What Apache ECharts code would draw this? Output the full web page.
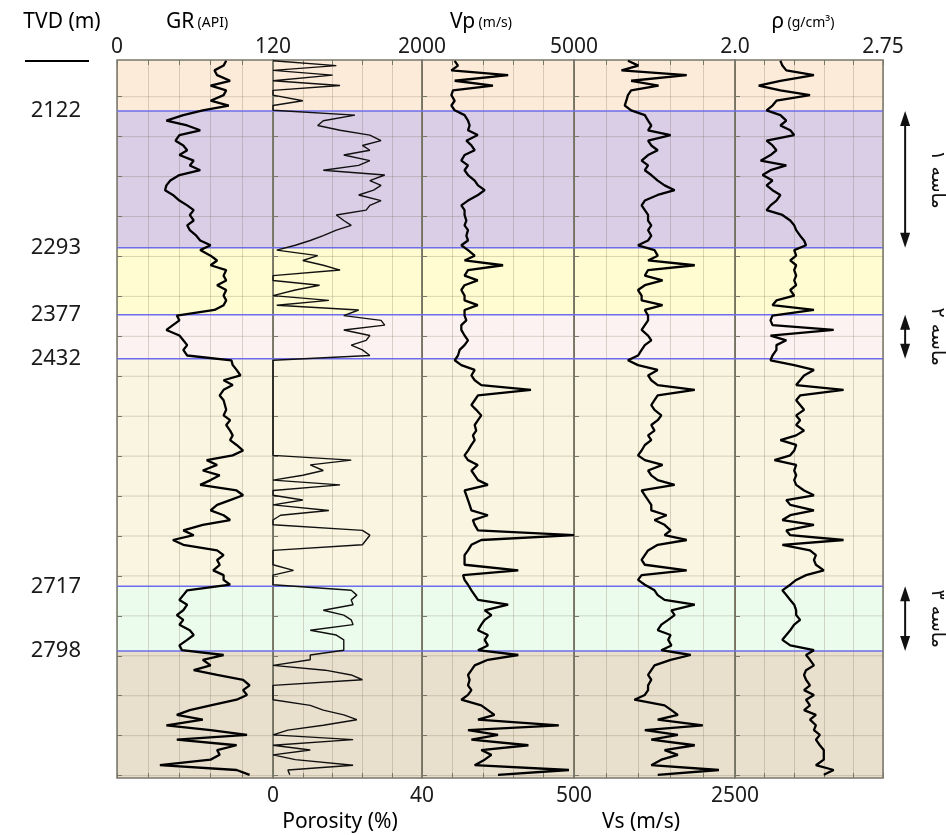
<!DOCTYPE html>
<html>
<head>
<meta charset="utf-8">
<title>Well log</title>
<script src="https://cdn.jsdelivr.net/npm/echarts@6/dist/echarts.min.js"></script>
<style>
  html, body { margin: 0; padding: 0; background: #fff; }
  #chart { width: 946px; height: 835px; }
</style>
</head>
<body>
<div id="chart"></div>
<script>
// depth samples (m, TVD)
var depth = [
  2059, 2065, 2071, 2077, 2084, 2090, 2096, 2102, 2109, 2115, 2121, 2127,
  2134, 2140, 2146, 2152, 2159, 2165, 2171, 2177, 2184, 2190, 2196, 2202,
  2209, 2215, 2221, 2227, 2234, 2240, 2246, 2252, 2259, 2265, 2271, 2278,
  2284, 2290, 2296, 2303, 2309, 2315, 2321, 2328, 2334, 2340, 2346, 2353,
  2359, 2365, 2371, 2378, 2384, 2390, 2396, 2403, 2409, 2415, 2421, 2428,
  2434, 2440, 2446, 2453, 2459, 2465, 2471, 2478, 2484, 2490, 2496, 2503,
  2509, 2515, 2522, 2528, 2534, 2540, 2547, 2553, 2559, 2565, 2572, 2578,
  2584, 2590, 2597, 2603, 2609, 2615, 2622, 2628, 2634, 2640, 2647, 2653,
  2659, 2665, 2672, 2678, 2684, 2690, 2697, 2703, 2709, 2715, 2722, 2728,
  2734, 2740, 2747, 2753, 2759, 2765, 2772, 2778, 2784, 2791, 2797, 2803,
  2809, 2816, 2822, 2828, 2834, 2841, 2847, 2853, 2859, 2866, 2872, 2878,
  2884, 2891, 2897, 2903, 2909, 2916, 2922, 2928, 2934, 2941, 2947, 2953
];
// GR (API)
var gr = [
  84, 82, 75, 77, 87, 72, 84, 82, 72, 86, 66, 51,
  38, 54, 64, 48, 45, 51, 54, 48, 59, 56, 64, 48,
  41, 38, 37, 43, 48, 54, 59, 56, 59, 54, 56, 61,
  64, 72, 64, 72, 77, 72, 84, 82, 84, 77, 84, 82,
  84, 82, 75, 46, 48, 43, 38, 48, 51, 54, 51, 54,
  88, 89, 92, 95, 82, 89, 82, 79, 82, 83, 84, 82,
  87, 84, 87, 89, 87, 92, 97, 89, 69, 77, 66, 79,
  72, 64, 92, 97, 87, 77, 72, 82, 87, 66, 51, 59,
  43, 51, 77, 82, 77, 79, 74, 82, 82, 87, 54, 51,
  48, 54, 51, 46, 51, 48, 56, 59, 54, 48, 50, 82,
  66, 72, 59, 77, 97, 102, 97, 100, 92, 72, 56, 46,
  66, 38, 72, 100, 46, 92, 77, 79, 72, 33, 92, 102
];
// Porosity (%)
var porosity = [
  0, 17, 0, 16, 0, 18, 0, 0, 8, 0, 0, 22,
  13.5, 12, 18, 26, 29, 24, 26, 19, 26, 23, 13.5, 30,
  26, 29, 27, 23, 29, 26, 25, 17, 19, 21, 17, 13.5,
  10, 6, 1, 12, 8, 13.5, 18, 0, 0, 12.5, 6, 0,
  15, 1, 23, 19, 29, 30, 19, 26, 25, 21, 24, 26,
  0, 0, 0, 0, 0, 0, 0, 0, 0, 0, 0, 0,
  0, 0, 0, 0, 0, 0, 0, 0, 21, 10, 13.5, 8,
  0, 18, 0, 0, 8, 0, 15, 2, 0, 0, 24, 26,
  25, 24, 0, 0, 0, 0, 5.5, 0, 0, 0, 21, 22.5,
  21, 21.5, 13.5, 19, 21, 21.5, 10, 17, 19, 19, 19, 10,
  10, 0, 14, 21, 24, 0, 0, 0, 0, 10, 13.5, 19,
  22.5, 13.5, 4, 0, 21.5, 0, 10, 0, 6, 21.5, 4, 4.5
];
// Vp (m/s)
var vp = [
  2645, 2710, 2580, 3700, 2645, 3400, 2612, 2580, 2645, 2580, 2645, 2840,
  2908, 2940, 2908, 3100, 2875, 2975, 3040, 2840, 2776, 2908, 2840, 2908,
  3040, 3105, 3237, 3105, 2908, 2776, 2840, 2840, 2875, 2840, 2908, 2875,
  2908, 2776, 2908, 3040, 2840, 3600, 2908, 2840, 3100, 2840, 2776, 2840,
  2840, 3100, 2840, 2840, 2875, 2776, 2776, 2840, 2908, 2840, 2743, 2710,
  2645, 2776, 3040, 2975, 3040, 3170, 4150, 3105, 3040, 2975, 3070, 3170,
  3105, 3040, 3070, 3005, 3040, 2975, 2908, 2840, 2908, 3100, 2975, 3040,
  3105, 3300, 2840, 2875, 2908, 2940, 2975, 3300, 3005, 3040, 3105, 5000,
  3170, 2975, 2908, 2840, 2840, 2840, 3900, 2810, 2840, 2908, 2975, 3040,
  3105, 3700, 3237, 3370, 3237, 3170, 3105, 3300, 3237, 3300, 3105, 3900,
  3300, 3040, 2975, 2908, 2940, 2908, 2975, 2908, 2776, 3170, 3300, 3430,
  3105, 4700, 2908, 3500, 2975, 4100, 3170, 3370, 3237, 3040, 4900, 3500
];
// Vs (m/s)
var vs = [
  1170, 1300, 1090, 1900, 1210, 1550, 1210, 1170, 1150, 1130, 1210, 1380,
  1420, 1460, 1420, 1700, 1420, 1460, 1540, 1420, 1340, 1420, 1380, 1460,
  1540, 1625, 1750, 1540, 1380, 1340, 1380, 1420, 1420, 1460, 1420, 1460,
  1420, 1295, 1500, 1540, 1420, 2000, 1420, 1380, 1600, 1380, 1295, 1340,
  1340, 1600, 1380, 1420, 1420, 1380, 1340, 1420, 1460, 1380, 1340, 1295,
  1170, 1295, 1540, 1420, 1460, 1540, 2000, 1540, 1500, 1460, 1500, 1585,
  1540, 1460, 1500, 1420, 1460, 1380, 1340, 1295, 1380, 1600, 1420, 1460,
  1540, 1750, 1340, 1380, 1420, 1460, 1460, 1650, 1500, 1625, 1700, 1625,
  1900, 1540, 1420, 1380, 1340, 1380, 1900, 1340, 1295, 1380, 1500, 1540,
  1625, 2000, 1710, 1750, 1670, 1585, 1540, 1700, 1670, 1710, 1585, 1950,
  1700, 1500, 1460, 1420, 1460, 1420, 1420, 1380, 1250, 1625, 1710, 1790,
  1540, 2100, 1380, 1790, 1460, 2000, 1625, 1790, 1585, 1460, 2300, 1540
];
// Density (g/cm3)
var rho = [
  2.23, 2.24, 2.26, 2.40, 2.23, 2.12, 2.23, 2.38, 2.21, 2.19, 2.16, 2.23,
  2.26, 2.23, 2.28, 2.30, 2.16, 2.19, 2.21, 2.18, 2.13, 2.26, 2.18, 2.14,
  2.19, 2.16, 2.19, 2.23, 2.21, 2.18, 2.16, 2.24, 2.28, 2.30, 2.31, 2.33,
  2.35, 2.36, 2.30, 2.31, 2.28, 2.31, 2.30, 2.31, 2.30, 2.31, 2.28, 2.30,
  2.21, 2.19, 2.40, 2.19, 2.18, 2.19, 2.50, 2.18, 2.26, 2.21, 2.21, 2.19,
  2.18, 2.30, 2.40, 2.35, 2.33, 2.31, 2.55, 2.33, 2.31, 2.33, 2.35, 2.31,
  2.33, 2.31, 2.35, 2.31, 2.23, 2.31, 2.30, 2.28, 2.20, 2.31, 2.30, 2.31,
  2.30, 2.31, 2.35, 2.40, 2.26, 2.28, 2.40, 2.28, 2.24, 2.40, 2.26, 2.28,
  2.55, 2.24, 2.38, 2.41, 2.40, 2.41, 2.45, 2.36, 2.31, 2.28, 2.24, 2.26,
  2.28, 2.30, 2.31, 2.31, 2.33, 2.30, 2.28, 2.26, 2.24, 2.28, 2.40, 2.36,
  2.38, 2.40, 2.36, 2.35, 2.36, 2.38, 2.35, 2.40, 2.36, 2.38, 2.35, 2.41,
  2.38, 2.41, 2.40, 2.43, 2.41, 2.43, 2.45, 2.45, 2.45, 2.41, 2.50, 2.45
];

// zone boundaries (also the depth labels) and grid depths
var zoneBounds = [2122, 2293, 2377, 2432, 2717, 2798];
var gridDepths = [2104, 2154, 2204, 2254, 2304, 2354, 2404, 2454, 2504,
                  2554, 2604, 2654, 2704, 2754, 2804, 2854, 2904, 2954];
// sand units
var sandTop = [2122, 2377, 2717];
var sandBottom = [2293, 2432, 2798];
var sandNames = ['ماسه ۱', 'ماسه ۲', 'ماسه ۳'];
// scale end labels
var grTicks = ['0', '120'];
var porTicks = ['0', '40'];
var vpTicks = ['2000', '5000'];
var vsTicks = ['500', '2500'];
var rhoTicks = ['2.0', '2.75'];

var DMIN = 2058, DMAX = 2957;
var zoneColors = ['#fdebd9', '#dacde6', '#fefcd0', '#fdf2f2', '#f9f5e1', '#ecfcec', '#e9dfcd'];
var FONT = '"Noto Sans", "Open Sans", sans-serif';
var gridColor = 'rgba(110,100,70,0.25)';
var frameColor = '#77776a';

var tracks = [
  { left: 117, width: 156, min: 0, max: 120, data: gr, labels: grTicks, labelPos: 'top', lw: 2.3, color: '#000' },
  { left: 273, width: 149, min: 0, max: 40, data: porosity, labels: porTicks, labelPos: 'bottom', lw: 1.4, color: '#111' },
  { left: 422, width: 152, min: 2000, max: 5000, data: vp, labels: vpTicks, labelPos: 'top', lw: 2.3, color: '#000' },
  { left: 574, width: 161, min: 500, max: 2500, data: vs, labels: vsTicks, labelPos: 'bottom', lw: 2.3, color: '#000' },
  { left: 735, width: 148, min: 2.0, max: 2.75, data: rho, labels: rhoTicks, labelPos: 'top', lw: 2.3, color: '#000' }
];

var TOP = 60, HEIGHT = 718;
var grids = [
  { left: 117, top: TOP, width: 766, height: HEIGHT, show: false, outerBoundsMode: 'none' }
];
var xAxes = [{ gridIndex: 0, type: 'value', min: 0, max: 1, show: false }];
var yAxes = [{
  gridIndex: 0, type: 'value', min: DMIN, max: DMAX, inverse: true, position: 'left',
  axisLine: { show: false }, axisTick: { show: false }, splitLine: { show: false },
  axisLabel: {
    customValues: zoneBounds, fontSize: 22, margin: 36, color: '#1a1a1a', fontFamily: FONT,
    formatter: function (v) { return String(v); }
  }
}];
var series = [];

// zone bands
var zoneEdges = [DMIN].concat(zoneBounds).concat([DMAX]);
var zoneData = [];
for (var z = 0; z < zoneEdges.length - 1; z++) zoneData.push([zoneEdges[z], zoneEdges[z + 1]]);
series.push({
  type: 'custom', xAxisIndex: 0, yAxisIndex: 0, z: -3, silent: true,
  data: zoneData,
  renderItem: function (params, api) {
    var p0 = api.coord([0, api.value(0)]);
    var p1 = api.coord([1, api.value(1)]);
    return { type: 'rect', shape: { x: p0[0], y: p0[1], width: p1[0] - p0[0], height: p1[1] - p0[1] },
             style: { fill: zoneColors[params.dataIndex] } };
  }
});
// horizontal grid lines
series.push({
  type: 'custom', xAxisIndex: 0, yAxisIndex: 0, z: -2, silent: true,
  data: gridDepths.map(function (d) { return [0, d]; }),
  renderItem: function (params, api) {
    var a = api.coord([0, api.value(1)]);
    var b = api.coord([1, api.value(1)]);
    return { type: 'line', shape: { x1: a[0], y1: a[1], x2: b[0], y2: b[1] },
             style: { stroke: gridColor, lineWidth: 1 } };
  }
});
// zone boundary lines
series.push({
  type: 'custom', xAxisIndex: 0, yAxisIndex: 0, z: 1, silent: true,
  data: zoneBounds.map(function (d) { return [0, d]; }),
  renderItem: function (params, api) {
    var a = api.coord([0, api.value(1)]);
    var b = api.coord([1, api.value(1)]);
    return { type: 'line', shape: { x1: a[0], y1: a[1], x2: b[0], y2: b[1] },
             style: { stroke: '#6d6deb', lineWidth: 1.5 } };
  }
});

tracks.forEach(function (t, k) {
  var gi = k + 1;
  grids.push({ left: t.left, top: TOP, width: t.width, height: HEIGHT, show: true,
               borderColor: frameColor, borderWidth: 1.5, backgroundColor: 'transparent',
               outerBoundsMode: 'none' });
  ['top', 'bottom'].forEach(function (pos) {
    xAxes.push({
      gridIndex: gi, type: 'value', position: pos, min: t.min, max: t.max,
      interval: (t.max - t.min) / 5,
      axisLine: { show: false },
      axisTick: { show: true, inside: true, length: 5, lineStyle: { color: frameColor } },
      splitLine: { show: pos === 'top', lineStyle: { color: gridColor, width: 1 } },
      axisLabel: {
        show: pos === t.labelPos, margin: pos === 'top' ? 2 : 8,
        fontSize: 21, color: '#1a1a1a', fontFamily: FONT,
        alignMinLabel: 'center', alignMaxLabel: 'center',
        formatter: function (v) {
          if (Math.abs(v - t.min) < 1e-6) return t.labels[0];
          if (Math.abs(v - t.max) < 1e-6) return t.labels[1];
          return '';
        }
      }
    });
  });
  yAxes.push({
    gridIndex: gi, type: 'value', min: DMIN, max: DMAX, inverse: true,
    axisLine: { show: false }, axisLabel: { show: false }, splitLine: { show: false },
    axisTick: { show: true, inside: true, length: 5, customValues: gridDepths, lineStyle: { color: frameColor } }
  });
  series.push({
    type: 'line', xAxisIndex: xAxes.length - 2, yAxisIndex: gi, z: 3,
    showSymbol: false, symbol: 'none', silent: true,
    lineStyle: { color: t.color, width: t.lw },
    data: depth.map(function (d, i) { return [t.data[i], d]; })
  });
});

// annotation column
grids.push({ left: 885, top: TOP, width: 61, height: HEIGHT, show: false, outerBoundsMode: 'none' });
xAxes.push({ gridIndex: grids.length - 1, type: 'value', min: 0, max: 1, show: false });
yAxes.push({ gridIndex: grids.length - 1, type: 'value', min: DMIN, max: DMAX, inverse: true, show: false });
series.push({
  type: 'custom', xAxisIndex: xAxes.length - 1, yAxisIndex: yAxes.length - 1, silent: true,
  data: sandTop.map(function (d, i) { return [d, sandBottom[i]]; }),
  renderItem: function (params, api) {
    var i = params.dataIndex;
    var top = api.value(0), bot = api.value(1);
    var a = api.coord([0.33, top]);
    var b = api.coord([0.33, bot]);
    var t = api.coord([0.85, (top + bot) / 2]);
    var hw = 5, hl = 15;
    return { type: 'group', children: [
      { type: 'line', shape: { x1: a[0], y1: a[1] + hl - 2, x2: b[0], y2: b[1] - hl + 2 },
        style: { stroke: '#111', lineWidth: 2 } },
      { type: 'polygon', shape: { points: [[a[0], a[1]], [a[0] - hw, a[1] + hl], [a[0] + hw, a[1] + hl]] },
        style: { fill: '#111' } },
      { type: 'polygon', shape: { points: [[b[0], b[1]], [b[0] - hw, b[1] - hl], [b[0] + hw, b[1] - hl]] },
        style: { fill: '#111' } },
      { type: 'text', x: t[0], y: t[1], rotation: -Math.PI / 2,
        style: { text: sandNames[i], font: '19px "DejaVu Sans"', fill: '#111', align: 'center', verticalAlign: 'middle' } }
    ] };
  }
});

var rich = {
  a: { fontSize: 21, fontFamily: FONT, color: '#1a1a1a', verticalAlign: 'bottom' },
  b: { fontSize: 14, fontFamily: FONT, color: '#1a1a1a', verticalAlign: 'bottom', padding: [0, 0, 2, 0] }
};
function header(x, y, txt) {
  return { type: 'text', x: x, y: y, style: { text: txt, rich: rich, align: 'center', verticalAlign: 'middle' } };
}

var myChart = echarts.init(document.getElementById('chart'));
var option = {
  animation: false,
  backgroundColor: '#fff',
  grid: grids,
  xAxis: xAxes,
  yAxis: yAxes,
  series: series,
  graphic: [
    header(62, 22, '{a|TVD (m)}'),
    header(197, 22, '{a|GR} {b|(API)}'),
    header(481, 22, '{a|Vp} {b|(m/s)}'),
    header(803, 22, '{a|ρ} {b|(g/cm³)}'),
    header(340, 822, '{a|Porosity (%)}'),
    header(641, 822, '{a|Vs (m/s)}'),
    { type: 'line', shape: { x1: 25, y1: 61, x2: 89, y2: 61 }, style: { stroke: '#000', lineWidth: 2 } }
  ]
};
myChart.setOption(option);
</script>
</body>
</html>
